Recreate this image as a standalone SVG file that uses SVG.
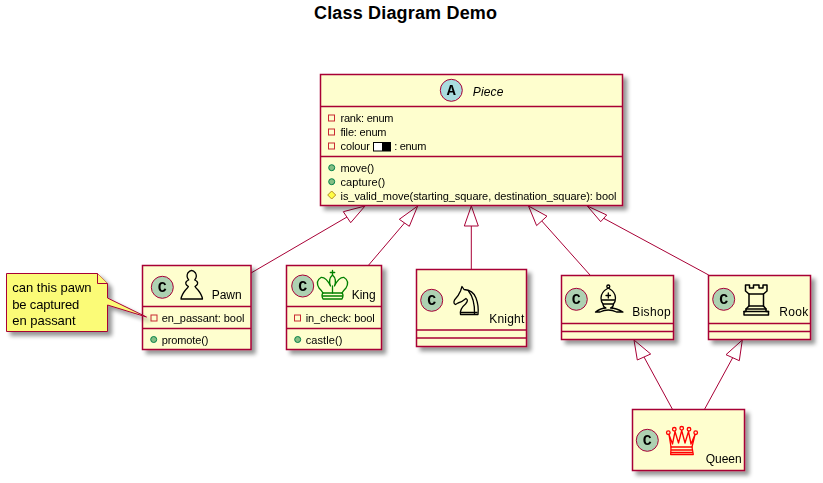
<svg xmlns="http://www.w3.org/2000/svg" width="823" height="483" viewBox="0 0 823 483">
<style>
text{font-family:"Liberation Sans",Arial,sans-serif;fill:#000}
.m{font-size:11px}.n{font-size:12px}.t{font-size:13px}
.title{font-size:18px;font-weight:bold}
.b{fill:#FEFECE;stroke:#A80036;stroke-width:1.5}
.s{stroke:#A80036;stroke-width:1.5;fill:none}
.c{stroke:#A80036;stroke-width:1;fill:none}
.h{fill:#fff;stroke:#A80036;stroke-width:1}
.bc{fill:#ADD1B2;stroke:#A80036;stroke-width:1}
.bl{font-family:"Liberation Mono","DejaVu Sans Mono",monospace;font-weight:bold;font-size:15px;text-anchor:middle}
.pv{fill:none;stroke:#C82930;stroke-width:1}
.pb{fill:#84BE84;stroke:#038048;stroke-width:1}
.pd{fill:#FFFF44;stroke:#B38D22;stroke-width:1}
.i{fill:none;stroke:#000;stroke-width:1.3;stroke-linejoin:round;stroke-linecap:round}
</style>
<defs>
<filter id="sh" x="-15%" y="-15%" width="135%" height="135%">
<feGaussianBlur in="SourceAlpha" stdDeviation="2" result="b"/>
<feOffset in="b" dx="4" dy="4" result="o"/>
<feComponentTransfer in="o" result="d"><feFuncA type="linear" slope="0.42"/></feComponentTransfer>
<feMerge><feMergeNode in="d"/><feMergeNode in="SourceGraphic"/></feMerge>
</filter>
</defs>
<text class="title" x="314" y="19" textLength="183">Class Diagram Demo</text>

<g id="connectors">
<path class="c" d="M347 217L251 273"/><path class="h" d="M365 206L343.3 211.7L350.7 222.7Z"/>
<path class="c" d="M404.5 223L368.7 265"/><path class="h" d="M417.7 206L399.3 219.3L409.3 226.3Z"/>
<path class="c" d="M471.3 226V269"/><path class="h" d="M471.3 206L464.3 226H478.3Z"/>
<path class="c" d="M541.8 221L590 275"/><path class="h" d="M528.5 206L536.6 225.6L547 216.2Z"/>
<path class="c" d="M603.7 218.3L708.7 275"/><path class="h" d="M587.3 206L600.7 221.7L606.7 215Z"/>
<path class="c" d="M644 357L672.3 409"/><path class="h" d="M634 340L637.3 360L650.7 354Z"/>
<path class="c" d="M732.7 357.7L704.7 409"/><path class="h" d="M742.3 340L726 354.7L739.3 360.7Z"/>
</g>

<g id="piece" filter="url(#sh)">
<rect class="b" x="320.5" y="74.5" width="302" height="131"/>
<path class="s" d="M320.5 106.5H622.5M320.5 156.5H622.5"/>
<circle cx="451.3" cy="90.3" r="11" style="fill:#A9DCDF;stroke:#A80036;stroke-width:1"/>
<text class="bl" x="451.3" y="95">A</text>
<text class="n" x="472.7" y="95.5" font-style="italic" textLength="30.7">Piece</text>
<rect class="pv" x="328.5" y="115" width="6" height="6"/>
<text class="m" x="340.5" y="122" textLength="53">rank: enum</text>
<rect class="pv" x="328.5" y="129" width="6" height="6"/>
<text class="m" x="340.5" y="136" textLength="46">file: enum</text>
<rect class="pv" x="328.5" y="143" width="6" height="6"/>
<text class="m" x="340.5" y="150" textLength="29.5">colour</text>
<rect x="373.5" y="142.5" width="17" height="8.5" fill="#fff" stroke="#000" stroke-width="1"/>
<rect x="382" y="142.5" width="9" height="8.5" fill="#000"/>
<text class="m" x="394.3" y="150" textLength="32">: enum</text>
<circle class="pb" cx="331.7" cy="167.7" r="3"/>
<text class="m" x="340.5" y="172" textLength="33.7">move()</text>
<circle class="pb" cx="331.7" cy="181.7" r="3"/>
<text class="m" x="340.5" y="186" textLength="44.7">capture()</text>
<path class="pd" d="M331.7 191L335.7 195L331.7 199L327.7 195Z"/>
<text class="m" x="340.5" y="200" textLength="276">is_valid_move(starting_square, destination_square): bool</text>
</g>

<g id="pawn" filter="url(#sh)">
<rect class="b" x="142.5" y="265.5" width="108.5" height="84"/>
<path class="s" d="M142.5 306.5H251M142.5 328.5H251"/>
<circle class="bc" cx="162.3" cy="287.3" r="11"/>
<text class="bl" x="162.3" y="292">C</text>
<path class="i" d="M181 299H202.5Q202 295 198 290Q195.5 287.5 195 286.5Q199 284 197 281.5Q196 280.5 194.7 280Q197.5 276.5 195.5 273Q191.7 268 187.8 273Q186 276.5 188.7 280Q187.4 280.5 186.4 281.5Q184.4 284 188.4 286.5Q188 287.5 185.5 290Q181.5 295 181 299Z"/>
<text class="n" x="211.7" y="299" textLength="30">Pawn</text>
<rect class="pv" x="151" y="315" width="6" height="6"/>
<text class="m" x="161.7" y="322" textLength="82.7">en_passant: bool</text>
<circle class="pb" cx="153.7" cy="339.5" r="3"/>
<text class="m" x="161.7" y="344" textLength="46.7">promote()</text>
</g>

<g id="king" filter="url(#sh)">
<rect class="b" x="286.5" y="265.5" width="95" height="84"/>
<path class="s" d="M286.5 306.5H381.5M286.5 328.5H381.5"/>
<circle class="bc" cx="302.7" cy="286" r="11"/>
<text class="bl" x="302.7" y="291">C</text>
<g class="i" style="stroke:#008000">
<path d="M332.5 270.5V275M330.3 272.5H334.7"/>
<path d="M332.5 275Q337 279 334.5 286Q339 277 344 277.5Q350 281 346 288Q343 291 342 293H323Q322 291 319 288Q315 281 321 277.5Q326 277 330.5 286Q328 279 332.5 275Z"/>
<path d="M323 293Q321 295 323 299H342Q344 295 342 293M323 296H342M332.5 286V293"/>
</g>
<text class="n" x="351.7" y="299" textLength="24">King</text>
<rect class="pv" x="294.5" y="315" width="6" height="6"/>
<text class="m" x="305.7" y="322" textLength="69">in_check: bool</text>
<circle class="pb" cx="297.7" cy="339.5" r="3"/>
<text class="m" x="305.7" y="344" textLength="36.7">castle()</text>
</g>

<g id="knight" filter="url(#sh)">
<rect class="b" x="416.5" y="269.5" width="110" height="77"/>
<path class="s" d="M416.5 330H526.5M416.5 338H526.5"/>
<circle class="bc" cx="431.7" cy="300.3" r="11"/>
<text class="bl" x="431.7" y="305">C</text>
<path class="i" d="M462 286.5L464 289.5Q473 290 476 298Q479 306 478 314.5H460.5Q459.5 309 465.5 304Q469 300 466 298.5Q462 302 458 303L455.5 304.5Q453 303.5 454.5 300Q459 295 460.5 291Z"/>
<path class="i" d="M468.5 291Q475 299 474.5 314"/>
<path class="i" d="M461 312.5H477"/>
<text class="n" x="489.3" y="323" textLength="35">Knight</text>
</g>

<g id="bishop" filter="url(#sh)">
<rect class="b" x="561.5" y="275.5" width="112" height="64"/>
<path class="s" d="M561.5 323.5H673.5M561.5 331.5H673.5"/>
<circle class="bc" cx="576.3" cy="299.3" r="11"/>
<text class="bl" x="576.3" y="304">C</text>
<g class="i">
<circle cx="608.3" cy="286.5" r="1.5"/>
<path d="M608.3 288Q601 292 601 298Q601 302 603 304H613.5Q615.5 302 615.5 298Q615.5 292 608.3 288Z"/>
<path d="M608.3 293V298M606 295.5H610.5M602 300H614.5"/>
<path d="M603 304Q603 307 606 308Q601 308 595.5 312H600Q604 310 608.3 310Q612.5 310 616.5 312H623Q616 308 610.5 308Q613.5 307 613.5 304"/>
</g>
<text class="n" x="632.3" y="316" textLength="38.3">Bishop</text>
</g>

<g id="rook" filter="url(#sh)">
<rect class="b" x="708.5" y="275.5" width="102" height="64"/>
<path class="s" d="M708.5 323.5H810.5M708.5 331.5H810.5"/>
<circle class="bc" cx="723.7" cy="299.3" r="11"/>
<text class="bl" x="723.7" y="304">C</text>
<g class="i" style="stroke-width:1.5">
<path d="M745.5 285V291L749 294V306L746 309V311.5H744V315H768.5V311.5H766V309L763.5 306V294L767 291V285H763V288H759V285H753.5V288H749.5V285Z"/>
<path d="M749 294H763.5M749 306H763.5M746 309H766M744 311.5H768.5"/>
</g>
<text class="n" x="779.3" y="316" textLength="29">Rook</text>
</g>

<g id="queen" filter="url(#sh)">
<rect class="b" x="632.5" y="409.5" width="112" height="61"/>
<circle class="bc" cx="647.3" cy="440.3" r="11"/>
<text class="bl" x="647.3" y="445">C</text>
<g class="i" style="stroke:#FF0000">
<circle cx="668.3" cy="432.7" r="1.8"/><circle cx="674.3" cy="429.3" r="1.8"/><circle cx="681.7" cy="428.3" r="1.8"/><circle cx="689" cy="429.3" r="1.8"/><circle cx="695.7" cy="432.7" r="1.8"/>
<path d="M669 434.5L672.5 444L675 431.5L678.5 443L681.7 430.5L685 443L688.5 431.5L691 444L695 434.5L692 447H671Z"/>
<path d="M671 447L670.7 454.5H693.3L692 447M671 450H692.5M671 452.5H692.5"/>
</g>
<text class="n" x="705.7" y="462.7" textLength="36">Queen</text>
</g>

<g id="note" filter="url(#sh)">
<path d="M6.5 273.5H97.5L107.5 283.5V298L146.5 317L107.5 305V331.5H6.5Z" fill="#FBFB77" stroke="#A80036" stroke-width="1"/>
<path d="M97.5 273.5V283.5H107.5" fill="#FBFB77" stroke="#A80036" stroke-width="1"/>
<text class="t" x="12.3" y="292" textLength="79.3">can this pawn</text>
<text class="t" x="12.3" y="308.5" textLength="67">be captured</text>
<text class="t" x="12.3" y="325" textLength="63.3">en passant</text>
</g>
</svg>
